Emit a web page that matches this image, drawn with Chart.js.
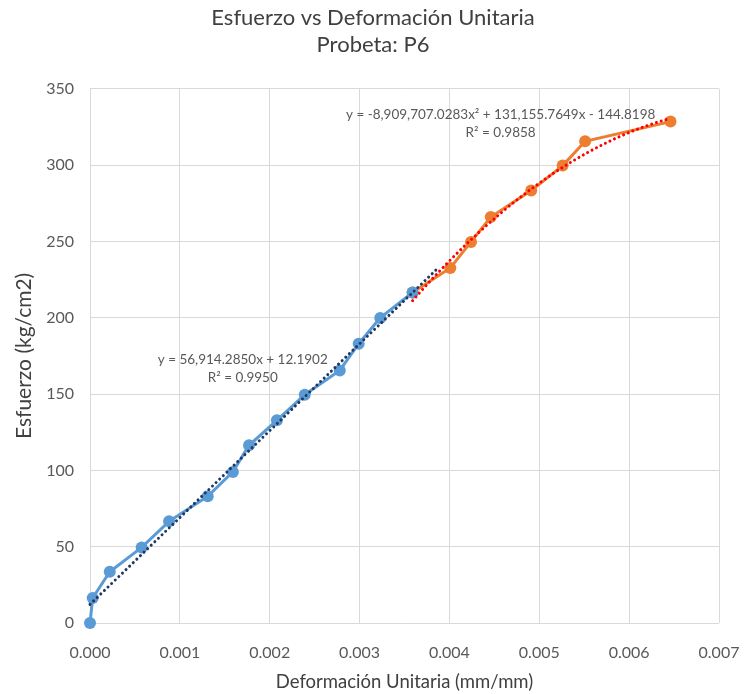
<!DOCTYPE html>
<html>
<head>
<meta charset="utf-8">
<script src="https://cdn.jsdelivr.net/npm/chart.js@4"></script>
<style>
  html, body { margin: 0; padding: 0; background: #ffffff; }
  #wrap { width: 746px; height: 694px; }
</style>
</head>
<body>
<div id="wrap"><canvas id="c" width="746" height="694"></canvas></div>
<script>
// Tramo elástico (azul)
const strainElastic = [0, 0.00003, 0.00022, 0.000575, 0.00088, 0.00131, 0.00159, 0.00177, 0.00208, 0.00239, 0.00278, 0.00299, 0.00323, 0.00359];
const stressElastic = [0, 16.4, 33.6, 49.5, 66.6, 83.0, 99.0, 116.4, 132.8, 149.6, 165.5, 183.0, 199.9, 216.6];

// Tramo plástico (naranja)
const strainPlastic = [0.00359, 0.00401, 0.00424, 0.00446, 0.00491, 0.00526, 0.00551, 0.00646];
const stressPlastic = [216.6, 232.6, 249.7, 266.0, 283.3, 299.7, 315.6, 328.5];

// Líneas de tendencia: coeficientes [c0, c1, c2] para y = c0 + c1·x + c2·x²
const linearCoef = [12.1902, 56914.2850, 0];
const linearRange = [0, 0.00385];
const polyCoef = [-144.8198, 131155.7649, -8909707.0283];
const polyRange = [0.00359, 0.00646];

const linearLabel = ['y = 56,914.2850x + 12.1902', 'R² = 0.9950'];
const polyLabel = ['y = -8,909,707.0283x² + 131,155.7649x - 144.8198', 'R² = 0.9858'];

const xTicks = [0, 0.001, 0.002, 0.003, 0.004, 0.005, 0.006, 0.007];
const yTicks = [0, 50, 100, 150, 200, 250, 300, 350];

function trendPoints(coef, range, n) {
  const pts = [];
  for (let i = 0; i <= n; i++) {
    const x = range[0] + (range[1] - range[0]) * i / n;
    pts.push({ x: x, y: coef[0] + coef[1] * x + coef[2] * x * x });
  }
  return pts;
}
const zip = (xs, ys) => xs.map((x, i) => ({ x: x, y: ys[i] }));

const FONT = 'Lato, "Open Sans", sans-serif';

// Etiquetas de ecuación ancladas en coordenadas de datos
const eqLabels = [
  { lines: linearLabel, at: [0.0017, 172.5] },
  { lines: polyLabel, at: [0.00457, 333] }
];

const eqPlugin = {
  id: 'eqLabels',
  afterDatasetsDraw(chart) {
    const ctx = chart.ctx, xs = chart.scales.x, ys = chart.scales.y;
    ctx.save();
    ctx.font = '13.5px ' + FONT;
    ctx.fillStyle = '#595959';
    ctx.textAlign = 'center';
    ctx.textBaseline = 'middle';
    eqLabels.forEach(l => {
      const px = xs.getPixelForValue(l.at[0]);
      const py = ys.getPixelForValue(l.at[1]);
      l.lines.forEach((t, i) => ctx.fillText(t, px, py + i * 18));
    });
    ctx.restore();
  }
};

new Chart(document.getElementById('c'), {
  type: 'scatter',
  data: {
    datasets: [
      {
        label: 'Elástico',
        data: zip(strainElastic, stressElastic),
        showLine: true,
        borderColor: '#5B9BD5',
        backgroundColor: '#5B9BD5',
        borderWidth: 3,
        pointRadius: 6,
        pointBorderWidth: 0,
        clip: false,
        order: 2
      },
      {
        label: 'Plástico',
        data: zip(strainPlastic, stressPlastic),
        showLine: true,
        borderColor: '#ED7D31',
        backgroundColor: '#ED7D31',
        borderWidth: 3,
        pointRadius: 6,
        pointBorderWidth: 0,
        clip: false,
        order: 3
      },
      {
        label: 'Lineal (Elástico)',
        data: trendPoints(linearCoef, linearRange, 60),
        showLine: true,
        borderColor: '#1F3864',
        borderWidth: 3,
        borderDash: [0.01, 5],
        borderCapStyle: 'round',
        pointRadius: 0,
        clip: false,
        order: 0
      },
      {
        label: 'Polinómica (Plástico)',
        data: trendPoints(polyCoef, polyRange, 80),
        showLine: true,
        borderColor: '#FF0000',
        borderWidth: 3,
        borderDash: [0.01, 5],
        borderCapStyle: 'round',
        pointRadius: 0,
        clip: false,
        order: 1
      }
    ]
  },
  options: {
    responsive: false,
    animation: false,
    layout: { padding: 0 },
    plugins: {
      legend: { display: false },
      tooltip: { enabled: false },
      title: {
        display: true,
        text: ['Esfuerzo vs Deformación Unitaria', 'Probeta: P6'],
        color: '#404040',
        font: { family: FONT, size: 22, weight: 'normal', lineHeight: 1.2 },
        padding: { top: 5, bottom: 31 }
      }
    },
    scales: {
      x: {
        type: 'linear',
        min: 0, max: 0.007,
        afterBuildTicks(s) { s.ticks = xTicks.map(v => ({ value: v })); },
        afterFit(s) { s.height = 71; s.paddingRight = 27; s.paddingLeft = 0; },
        grid: { color: '#d9d9d9', lineWidth: 1, drawTicks: false },
        border: { display: false },
        ticks: {
          padding: 20,
          color: '#595959',
          font: { family: FONT, size: 16 },
          callback: v => v.toFixed(3),
          maxRotation: 0
        },
        title: {
          display: true,
          text: 'Deformación Unitaria (mm/mm)',
          color: '#404040',
          font: { family: FONT, size: 18.5 },
          padding: { top: 0, bottom: 1 }
        }
      },
      y: {
        type: 'linear',
        min: 0, max: 350,
        afterBuildTicks(s) { s.ticks = yTicks.map(v => ({ value: v })); },
        afterFit(s) { s.width = 90; },
        grid: { color: '#d9d9d9', lineWidth: 1, drawTicks: false },
        border: { display: false },
        ticks: {
          padding: 16,
          color: '#595959',
          font: { family: FONT, size: 16 }
        },
        title: {
          display: true,
          text: 'Esfuerzo (kg/cm2)',
          color: '#404040',
          font: { family: FONT, size: 21 },
          padding: { top: 12, bottom: 0 }
        }
      }
    }
  },
  plugins: [eqPlugin]
});
</script>
</body>
</html>
